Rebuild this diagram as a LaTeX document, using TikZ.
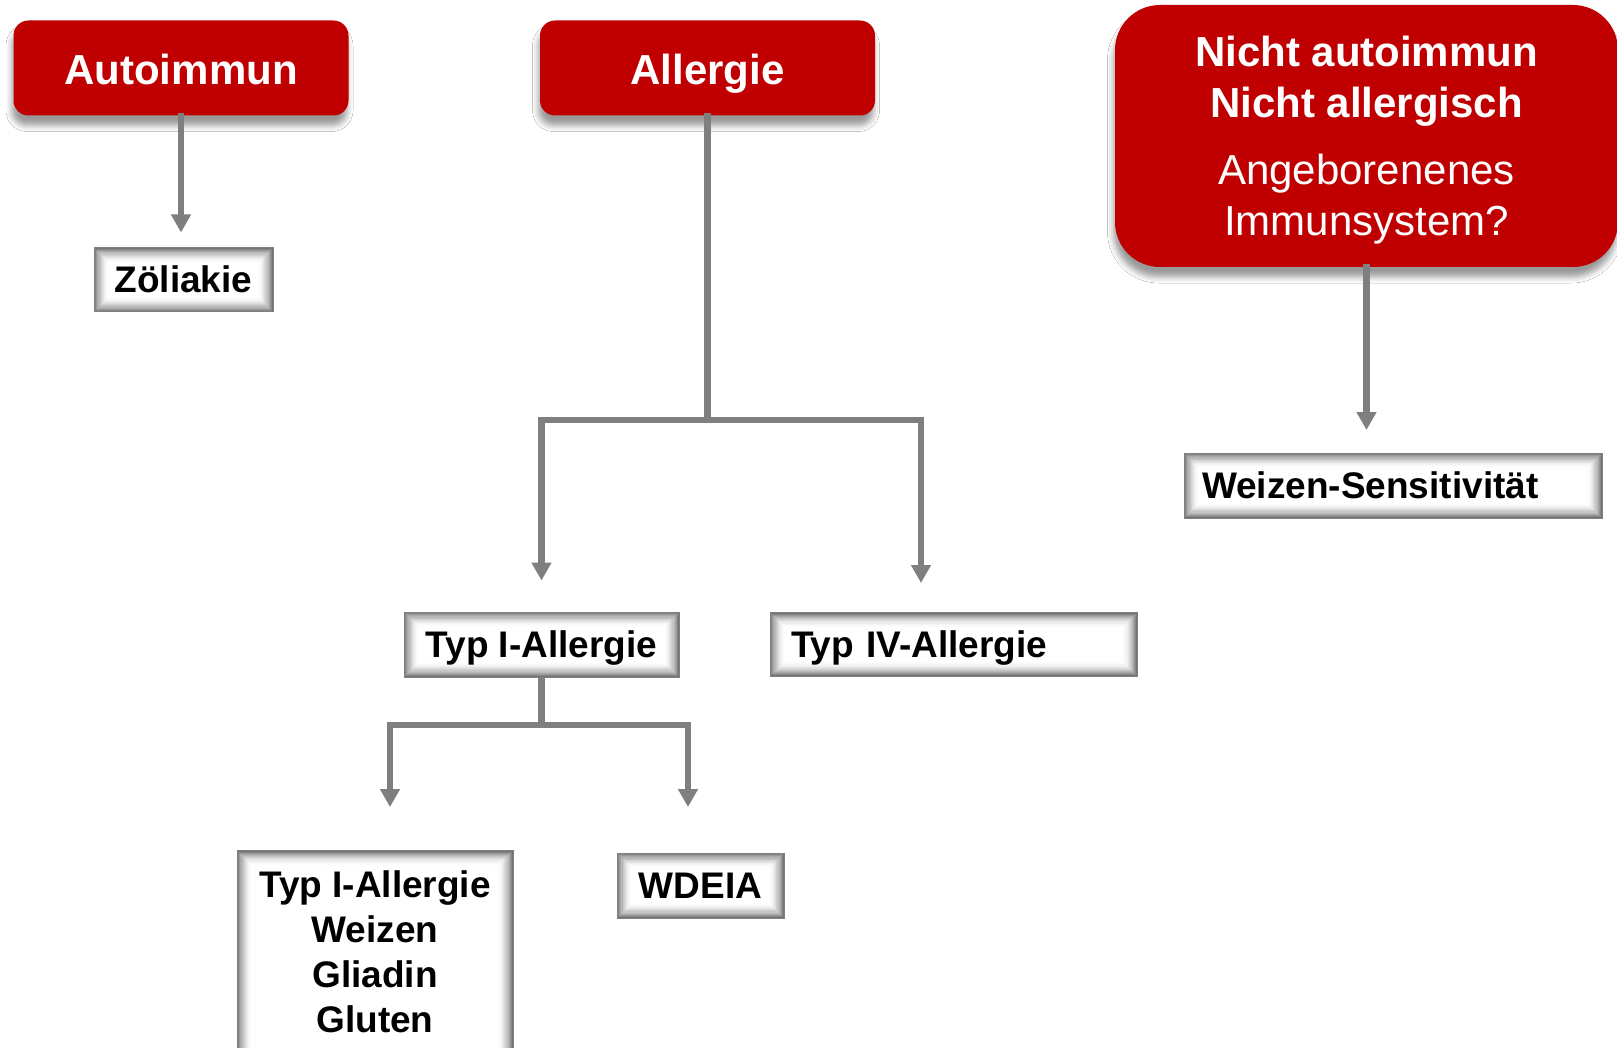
\documentclass[tikz,border=0pt]{standalone}
\usepackage{fontspec}
\setmainfont{Liberation Sans}
\usetikzlibrary{arrows.meta,shadows.blur,calc}
\definecolor{boxred}{RGB}{192,0,0}
\definecolor{linegrey}{RGB}{127,127,127}
\begin{document}
\begin{tikzpicture}[x=1pt,y=-1pt,
  redbox/.style={rectangle, rounded corners=15pt, fill=boxred, text=white,
    inner sep=0pt, align=center,
    font=\fontsize{42}{50}\selectfont\bfseries,
    blur shadow={shadow xshift=-1.5pt, shadow yshift=-10pt,
      shadow blur radius=6pt, shadow opacity=40}},
  glowbox/.style={rectangle, fill=white, draw=black!50, line width=1pt,
    inner sep=0pt, font=\fontsize{37}{45}\selectfont\bfseries,
    path picture={
      \foreach \k in {0,...,13}{
        \pgfmathsetmacro\g{55*(1-\k/14)^2}
        \draw[draw=black!\g, line width=1.2pt]
          ([xshift=\k*1.1pt+0.6pt, yshift=-\k*1.1pt-0.6pt]path picture bounding box.north west)
          rectangle
          ([xshift=-\k*1.1pt-0.6pt, yshift=\k*1.1pt+0.6pt]path picture bounding box.south east);
      }}},
  oneline/.style={text height=25pt, text depth=0pt},
  conn/.style={draw=linegrey, line width=6.5pt},
  arr/.style={conn, -{Triangle[width=19pt,length=18pt]}}
]
\useasboundingbox (0,0) rectangle (1617,1048);
\fill[white] (0,0) rectangle (1617,1048);

% top-level categories
\node[redbox, minimum width=335pt, minimum height=95pt, text height=34pt, text depth=0pt]
  (autoimmun) at (181,68) {Autoimmun};
\node[redbox, minimum width=335pt, minimum height=95pt, text height=34pt, text depth=0pt]
  (allergie) at (707.5,68) {Allergie};
\node[redbox, rounded corners=45pt, minimum width=503pt, minimum height=262pt,
      font=\fontsize{42}{51}\selectfont, text depth=0pt] (nicht) at (1366.5,136)
  {\textbf{Nicht autoimmun}\\\textbf{Nicht allergisch}\\[16pt]Angeborenenes\\Immunsystem?};

% disorders
\node[glowbox, oneline, minimum width=179pt, minimum height=64pt] (zoeliakie) at (183.5,280) {Zöliakie};
\node[glowbox, oneline, minimum width=275pt, minimum height=65pt] (typI) at (541.5,644.5) {Typ I-Allergie};
\node[glowbox, oneline, minimum width=367.5pt, minimum height=64pt, inner xsep=21pt,
      text width=325.5pt, align=left] (typIV) at (953.75,644.5) {Typ IV-Allergie};
\node[glowbox, oneline, minimum width=418pt, minimum height=65pt, inner xsep=18pt,
      text width=382pt, align=left] (sens) at (1393,485.5) {Weizen-Sensitivität};
\node[glowbox, anchor=north, minimum width=276pt, inner ysep=20pt, text depth=14pt,
      align=center] (weizen) at (375,850)
  {Typ I-Allergie\\Weizen\\Gliadin\\Gluten};
\node[glowbox, oneline, minimum width=167pt, minimum height=65pt] (wdeia) at (700.5,885.5) {WDEIA};

% junctions and arrow ends
\coordinate (j1) at (707.5,420);
\coordinate (t4) at (921,583);
\coordinate (j2) at (541.5,725);
\coordinate (t5) at (390,807);
\coordinate (t6) at (688,807);
\coordinate (t7) at (1366.5,430);

% connectors
\draw[arr, shorten >=15pt] ([yshift=3pt]autoimmun.south) -- (autoimmun.south |- zoeliakie.north);
\draw[conn] ([yshift=3pt]allergie.south) -- (j1);
\draw[arr, shorten >=31pt] (j1) -| (typI.north);
\draw[arr] (j1) -| (t4);
\draw[conn] (typI.south) -- (j2);
\draw[arr] (j2) -| (t5);
\draw[arr] (j2) -| (t6);
\draw[arr] ([yshift=3pt]nicht.south) -- (t7);
\end{tikzpicture}
\end{document}
